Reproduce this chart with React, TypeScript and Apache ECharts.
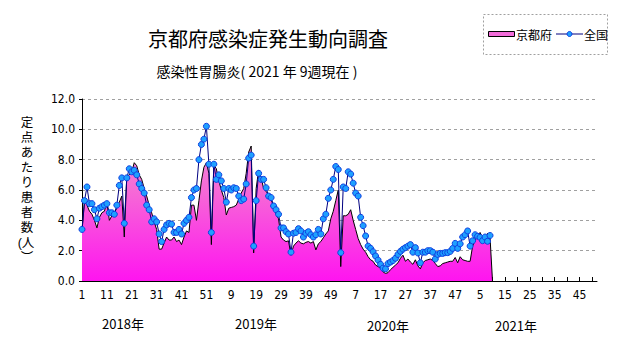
import React, { useEffect, useRef } from 'react';
import * as echarts from 'echarts';

const years = [2018, 2019, 2020, 2021];
const yearLabels = ['2018年', '2019年', '2020年', '2021年'];
const weeksPerYear = 52;
const categories: string[] = years.flatMap((y) =>
  Array.from({ length: weeksPerYear }, (_, k) => `${y}-${k + 1}`)
);

const seriesNames = ['京都府', '全国'];
const titleText = '京都府感染症発生動向調査';
const subtitleText = '感染性胃腸炎( 2021 年 9週現在 )';
const yAxisNameChars = ['定', '点', 'あ', 'た', 'り', '患', '者', '数', '(人', '︶'];

// 京都府 (定点あたり患者数)
const kyoto2018 = [
  3.3, 5.2, 5.0, 4.6, 4.4, 4.0, 3.5, 4.2, 4.5, 4.6,
  5.2, 4.0, 4.3, 4.5, 4.8, 5.2, 5.6, 2.9, 6.9, 7.0,
  7.2, 7.8, 7.6, 7.0, 6.7, 6.1, 5.6, 5.0, 4.5, 3.9,
  3.4, 2.1, 2.1, 2.5, 2.9, 2.7, 2.7, 2.9, 2.6, 2.7,
  2.4, 2.9, 3.3, 3.2, 5.0, 5.0, 4.0, 5.3, 6.6, 7.5,
  7.8, 7.1,
];
const kyoto2019 = [
  2.4, 7.65, 7.4, 6.6, 6.0, 5.5, 4.35, 4.8, 4.85, 4.9,
  5.0, 5.4, 5.8, 6.1, 7.1, 8.5, 8.9, 1.85, 6.1, 7.3,
  6.8, 6.1, 5.9, 5.7, 5.4, 4.9, 4.4, 4.1, 2.9, 2.7,
  2.6, 2.65, 1.7, 2.3, 2.5, 2.65, 2.5, 2.45, 2.55, 2.6,
  2.5, 2.6, 2.05, 2.45, 2.6, 2.85, 3.1, 3.3, 4.1, 4.6,
  5.3, 6.0,
];
const kyoto2020 = [
  0.95, 4.3, 4.3, 4.4, 4.7, 4.0, 3.4, 2.8, 2.4, 2.1,
  1.9, 1.6, 1.4, 1.3, 1.05, 0.95, 0.85, 0.6, 0.5, 0.55,
  0.75, 0.9, 1.05, 1.2, 1.5, 1.7, 1.3, 1.45, 1.25, 1.1,
  1.4, 1.0, 0.8, 1.2, 1.35, 1.4, 1.45, 1.35, 1.15, 0.95,
  1.0, 1.15, 1.2, 1.25, 1.3, 1.3, 1.55, 1.2, 1.6, 1.4,
  1.35, 1.3,
];
const kyoto2021 = [1.3, 2.3, 2.7, 3.0, 3.2, 2.85, 2.55, 3.15, 2.9, 0];

// 全国
const national2018 = [
  3.4, 5.3, 6.2, 5.1, 5.1, 4.7, 4.1, 4.8, 4.9, 5.0,
  5.1, 4.5, 4.5, 4.4, 5.0, 6.3, 6.8, 3.8, 6.8, 7.4,
  7.2, 7.3, 7.0, 6.4, 6.1, 5.8, 5.0, 4.7, 3.9, 4.1,
  3.9, 3.1, 2.6, 3.4, 3.7, 3.8, 3.75, 3.2, 3.2, 3.4,
  3.1, 3.8, 4.0, 4.2, 5.5, 6.0, 6.1, 8.0, 9.0, 9.35,
  10.2, 7.7,
];
const national2019 = [
  3.2, 7.7, 6.7, 7.0, 6.6, 6.1, 5.2, 6.1, 6.0, 6.15,
  6.1, 5.6, 5.3, 5.4, 6.4, 8.1, 8.3, 2.3, 5.3, 7.1,
  6.7, 6.7, 6.15, 5.6, 5.5, 4.95, 4.7, 4.4, 3.5, 3.5,
  3.25, 3.1, 1.9, 3.15, 3.2, 3.45, 3.3, 2.9, 3.15, 3.25,
  3.05, 2.9, 3.05, 3.4, 3.1, 4.1, 4.4, 5.45, 6.0, 6.7,
  7.55, 7.35,
];
const national2020 = [
  1.87, 6.2, 6.1, 7.2, 7.05, 6.45, 5.8, 5.6, 4.2, 3.65,
  2.97, 2.3, 2.15, 1.93, 1.65, 1.38, 1.1, 0.85, 0.8, 1.15,
  1.25, 1.35, 1.5, 1.75, 1.95, 2.1, 2.2, 2.3, 2.4, 1.9,
  2.2, 1.85, 1.2, 1.9, 1.9, 2.0, 2.0, 1.9, 1.45, 1.75,
  1.82, 1.82, 1.87, 1.87, 1.95, 2.15, 2.48, 2.15, 2.45, 2.9,
  3.05, 3.3,
];
const national2021 = [2.3, 2.65, 3.05, 2.95, 2.88, 2.66, 2.9, 2.62, 3.0];

const kyoto = [...kyoto2018, ...kyoto2019, ...kyoto2020, ...kyoto2021];
const national = [...national2018, ...national2019, ...national2020, ...national2021];

const JP = '"Noto Sans CJK JP", sans-serif';
const JP_TIGHT = '"Liberation Sans", "Noto Sans CJK JP", sans-serif';
const NUM = '"Liberation Sans Narrow", "DejaVu Sans Condensed", "Liberation Sans", sans-serif';

export default function App() {
  const ref = useRef<HTMLDivElement>(null);
  useEffect(() => {
    if (!ref.current) return;
    const chart = echarts.init(ref.current, null, { renderer: 'svg' });
    const yearX = [123, 256, 388, 516];
    const yearY = [323, 323, 325, 325];
    const center = { align: 'center', verticalAlign: 'middle', textAlign: 'center', textVerticalAlign: 'middle' };
    const leftMid = { align: 'left', verticalAlign: 'middle', textAlign: 'left', textVerticalAlign: 'middle' };
    chart.setOption({
      animation: false,
      backgroundColor: '#ffffff',
      grid: { left: 82, right: 34, top: 99, bottom: 66 },
      xAxis: {
        type: 'category',
        data: categories,
        boundaryGap: false,
        axisLine: { show: true, lineStyle: { color: '#000', width: 1 } },
        axisTick: { show: true, interval: 4, inside: true, length: 4, lineStyle: { color: '#000' } },
        axisLabel: {
          interval: 9,
          formatter: (v: string) => v.split('-')[1],
          fontSize: 12,
          fontFamily: NUM,
          color: '#000',
          margin: 8,
        },
        splitLine: { show: false },
      },
      yAxis: {
        type: 'value',
        min: 0,
        max: 12,
        interval: 2,
        axisLine: { show: true, lineStyle: { color: '#000', width: 1 } },
        axisTick: { show: true, length: 3, lineStyle: { color: '#000' } },
        axisLabel: {
          formatter: (v: number) => v.toFixed(1),
          fontSize: 12,
          fontFamily: NUM,
          color: '#000',
          margin: 7,
        },
        splitLine: { show: true, lineStyle: { color: '#A0A0A0', type: [3, 3], width: 1 } },
      },
      series: [
        {
          name: seriesNames[0],
          type: 'line',
          data: kyoto,
          symbol: 'none',
          showSymbol: false,
          lineStyle: { color: '#000', width: 1 },
          itemStyle: { color: '#000' },
          areaStyle: {
            opacity: 1,
            color: new echarts.graphic.LinearGradient(0, 99, 0, 281, [
              { offset: 0, color: '#EEA6D8' },
              { offset: 0.5, color: '#F66AD6' },
              { offset: 1, color: '#FF14F0' },
            ], true),
          },
          z: 2,
        },
        {
          name: seriesNames[1],
          type: 'line',
          data: national,
          symbol: 'circle',
          symbolSize: 6,
          showSymbol: true,
          showAllSymbol: true,
          lineStyle: { color: '#000080', width: 1 },
          itemStyle: { color: '#1EA0FF', borderColor: '#1040E0', borderWidth: 1 },
          z: 3,
        },
      ],
      graphic: [
        {
          type: 'text', x: 268, y: 38,
          style: { text: titleText, fontSize: 20, fontFamily: JP, fill: '#000', ...center },
        },
        {
          type: 'text', x: 257, y: 71,
          style: { text: subtitleText, fontSize: 14, fontFamily: JP, fill: '#000', ...center },
        },
        {
          type: 'rect', shape: { x: 483.5, y: 14.5, width: 124, height: 40 },
          style: { fill: '#fff', stroke: '#A0A0A0', lineWidth: 1, lineDash: [2, 2] },
        },
        {
          type: 'rect', shape: { x: 488.5, y: 31.5, width: 26, height: 5 },
          style: { fill: '#F26CDA', stroke: '#000', lineWidth: 1 },
        },
        {
          type: 'text', x: 516, y: 34,
          style: { text: seriesNames[0], fontSize: 12, fontFamily: JP, fill: '#000', ...leftMid },
        },
        {
          type: 'line', shape: { x1: 556, y1: 34, x2: 583, y2: 34 },
          style: { stroke: '#000080', lineWidth: 1 },
        },
        {
          type: 'circle', shape: { cx: 569.5, cy: 34, r: 2.5 },
          style: { fill: '#1EA0FF', stroke: '#1040E0', lineWidth: 1 },
        },
        {
          type: 'text', x: 584, y: 34,
          style: { text: seriesNames[1], fontSize: 12, fontFamily: JP, fill: '#000', ...leftMid },
        },
        ...yAxisNameChars.map((c, k) => ({
          type: 'text', x: c === '(人' ? 26 : 27, y: 123 + k * 15,
          style: { text: c, fontSize: 12.5, fontFamily: JP_TIGHT, fill: '#000', ...center },
        })),
        ...yearLabels.map((t, k) => ({
          type: 'text', x: yearX[k], y: yearY[k],
          style: { text: t, fontSize: 13, fontFamily: JP, fill: '#000', ...center },
        })),
      ],
    });
    return () => chart.dispose();
  }, []);
  return (
    <div
      ref={ref}
      style={{ position: 'fixed', left: 0, top: 0, width: 631, height: 347, background: '#fff' }}
    />
  );
}
